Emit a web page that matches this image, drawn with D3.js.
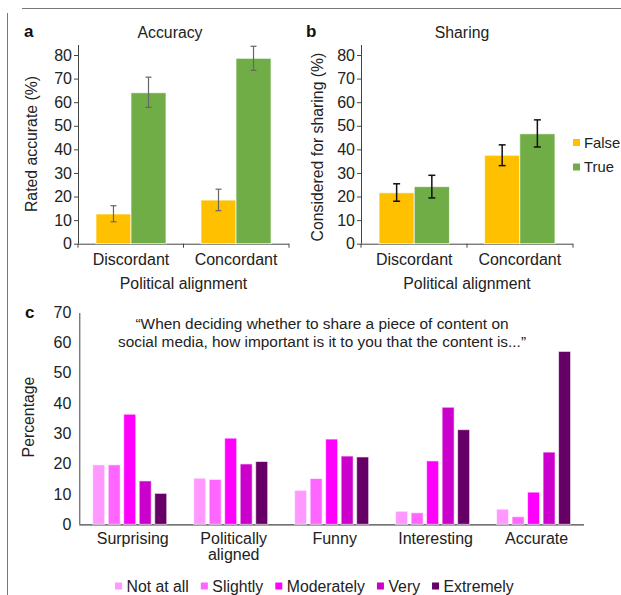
<!DOCTYPE html>
<html>
<head>
<meta charset="UTF-8">
<title>Accuracy and sharing</title>
<style>
  body { margin: 0; background: #fff; }
  svg { display: block; font-family: "Liberation Sans", Arial, Helvetica, sans-serif; }
  .axis path, .axis line { stroke: #444; }
  .axis text { fill: #222; font-size: 16px; }
</style>
</head>
<body>
<div id="chart"></div>
<script src="https://cdnjs.cloudflare.com/ajax/libs/d3/7.8.5/d3.min.js"></script>
<script>
// panels a and b
const alignments = ["Discordant", "Concordant"];
const veracity = ["False", "True"];
const accuracyFalse = [12.6, 18.5];
const accuracyFalseLo = [9.3, 14.0];
const accuracyFalseHi = [16.1, 23.1];
const accuracyTrue = [64.0, 78.6];
const accuracyTrueLo = [57.8, 73.5];
const accuracyTrueHi = [70.6, 83.7];
const sharingFalse = [21.6, 37.5];
const sharingFalseLo = [18.0, 33.1];
const sharingFalseHi = [25.4, 41.9];
const sharingTrue = [24.2, 46.6];
const sharingTrueLo = [19.4, 41.0];
const sharingTrueHi = [29.0, 52.5];
const pctTicks = [0, 10, 20, 30, 40, 50, 60, 70, 80];

// panel c
const traits = ["Surprising", "Politically aligned", "Funny", "Interesting", "Accurate"];
const levels = ["Not at all", "Slightly", "Moderately", "Very", "Extremely"];
const notAtAll = [19.6, 15.2, 11.2, 4.3, 5.0];
const slightly = [19.6, 14.8, 15.1, 3.8, 2.5];
const moderately = [36.3, 28.4, 28.1, 20.9, 10.6];
const very = [14.3, 19.9, 22.5, 38.6, 23.8];
const extremely = [10.2, 20.7, 22.2, 31.2, 57.0];
const cTicks = [0, 10, 20, 30, 40, 50, 60, 70];

const veracityColor = d3.scaleOrdinal().domain(veracity).range(["#ffc000", "#70ad47"]);
const levelColor = d3.scaleOrdinal().domain(levels).range(["#ff99ff", "#ff66ff", "#ff00ff", "#cc00cc", "#660066"]);

const W = 621, H = 595;
const FS = 15.8;
const svg = d3.select("#chart").append("svg").attr("width", W).attr("height", H);

// frame lines
svg.append("line").attr("x1", 22).attr("x2", W).attr("y1", 8.5).attr("y2", 8.5)
  .attr("stroke", "#777").attr("stroke-width", 1);
svg.append("line").attr("x1", 7.5).attr("x2", 7.5).attr("y1", 13).attr("y2", H)
  .attr("stroke", "#777").attr("stroke-width", 1);

function barPanel(opts) {
  const g = svg.append("g");
  const y = d3.scaleLinear().domain([0, 80]).range([243.7, 55]);
  const x0 = d3.scaleBand().domain(alignments).range([opts.left, opts.right])
    .paddingInner(0.333).paddingOuter(0.171);
  const x1 = d3.scaleBand().domain(veracity).range([0, x0.bandwidth()]);

  // y axis
  g.append("g").attr("class", "axis")
    .attr("transform", "translate(" + opts.left + ",0)")
    .call(d3.axisLeft(y).tickValues(pctTicks).tickSize(4).tickSizeOuter(0).tickPadding(2))
    .call(a => a.select(".domain").attr("d", "M0.5," + y(0) + "V" + (y(80) - 10)));

  // x axis with ticks on the category boundaries
  const xa = g.append("g").attr("class", "axis")
    .attr("transform", "translate(0," + y(0) + ")")
    .call(d3.axisBottom(x0).tickSize(0).tickPadding(10).tickSizeOuter(0));
  xa.selectAll(".tick text").attr("font-size", FS);
  xa.select(".domain").attr("d", "M" + opts.left + ",0.5H" + opts.right);
  const bounds = [opts.left, (opts.left + opts.right) / 2, opts.right];
  xa.selectAll(".bnd").data(bounds).enter().append("line")
    .attr("x1", d => d).attr("x2", d => d).attr("y1", 0).attr("y2", 4)
    .attr("stroke", "#444");

  const rows = alignments.map((a, i) => veracity.map((v, j) => ({
    group: a, key: v, value: opts.values[j][i], lo: opts.lo[j][i], hi: opts.hi[j][i]
  })));

  const grp = g.selectAll(".grp").data(rows).enter().append("g")
    .attr("transform", (d, i) => "translate(" + x0(alignments[i]) + ",0)");
  grp.selectAll("rect").data(d => d).enter().append("rect")
    .attr("x", d => x1(d.key))
    .attr("y", d => y(d.value))
    .attr("width", x1.bandwidth())
    .attr("height", d => y(0) - y(d.value))
    .attr("fill", d => veracityColor(d.key))
    .attr("stroke", "rgba(255,255,255,0.7)").attr("stroke-width", 1);

  // error bars
  const cap = opts.cap;
  const mid = d => x1(d.key) + x1.bandwidth() / 2;
  const eb = grp.selectAll(".eb").data(d => d).enter().append("g")
    .attr("stroke", opts.errColor).attr("stroke-width", opts.errWidth).attr("fill", "none");
  eb.append("line")
    .attr("x1", mid).attr("x2", mid)
    .attr("y1", d => y(d.lo)).attr("y2", d => y(d.hi));
  eb.append("line")
    .attr("x1", d => mid(d) - cap).attr("x2", d => mid(d) + cap)
    .attr("y1", d => y(d.lo)).attr("y2", d => y(d.lo));
  eb.append("line")
    .attr("x1", d => mid(d) - cap).attr("x2", d => mid(d) + cap)
    .attr("y1", d => y(d.hi)).attr("y2", d => y(d.hi));

  // texts
  g.append("text").attr("x", opts.letterX).attr("y", 31).attr("dy", "0.35em")
    .attr("font-weight", "bold").attr("font-size", 17).attr("fill", "#111").text(opts.letter);
  g.append("text").attr("x", opts.titleX).attr("y", 32).attr("dy", "0.35em")
    .attr("text-anchor", "middle").attr("font-size", FS).attr("fill", "#222").text(opts.title);
  g.append("text").attr("x", (opts.left + opts.right) / 2).attr("y", 283).attr("dy", "0.35em")
    .attr("text-anchor", "middle").attr("font-size", FS).attr("fill", "#222").text("Political alignment");
  g.append("text").attr("transform", "translate(" + opts.ylabX + "," + opts.ylabY + ") rotate(-90)")
    .attr("dy", "0.35em").attr("text-anchor", "middle").attr("font-size", FS).attr("fill", "#222")
    .text(opts.ylabel);
  return g;
}

barPanel({
  left: 78, right: 289, letter: "a", letterX: 24, title: "Accuracy", titleX: 170,
  ylabel: "Rated accurate (%)", ylabX: 31, ylabY: 144,
  values: [accuracyFalse, accuracyTrue], lo: [accuracyFalseLo, accuracyTrueLo], hi: [accuracyFalseHi, accuracyTrueHi],
  errColor: "#666", errWidth: 1.2, cap: 3
});

barPanel({
  left: 361, right: 573, letter: "b", letterX: 306, title: "Sharing", titleX: 462,
  ylabel: "Considered for sharing (%)", ylabX: 317, ylabY: 147,
  values: [sharingFalse, sharingTrue], lo: [sharingFalseLo, sharingTrueLo], hi: [sharingFalseHi, sharingTrueHi],
  errColor: "#111", errWidth: 1.5, cap: 3.5
});

// legend for a/b
const legAB = svg.append("g").attr("transform", "translate(573,0)");
const legItem = legAB.selectAll("g").data(veracity).enter().append("g")
  .attr("transform", (d, i) => "translate(0," + (142.5 + i * 24.5) + ")");
legItem.append("rect").attr("x", 0).attr("y", -3.5).attr("width", 7).attr("height", 7)
  .attr("fill", d => veracityColor(d));
legItem.append("text").attr("x", 11).attr("dy", "0.35em").attr("font-size", 14.8).attr("fill", "#222")
  .text(d => d);

// panel c
const cg = svg.append("g");
const cy = d3.scaleLinear().domain([0, 70]).range([524.3, 312]);
const cx0 = d3.scaleBand().domain(traits).range([79.3, 584]).paddingInner(0.267).paddingOuter(0.133);
const cx1 = d3.scaleBand().domain(levels).range([0, cx0.bandwidth()]).paddingInner(0.226);
const series = [notAtAll, slightly, moderately, very, extremely];

cg.append("g").attr("class", "axis")
  .attr("transform", "translate(79.3,0)")
  .call(d3.axisLeft(cy).tickValues(cTicks).tickSize(0).tickPadding(8))
  .call(a => a.select(".domain").attr("d", "M0.5," + cy(0) + "V" + (cy(70) + 1)));

const cxa = cg.append("g").attr("class", "axis")
  .attr("transform", "translate(0," + cy(0) + ")")
  .call(d3.axisBottom(cx0).tickSize(0).tickSizeOuter(0).tickFormat(""));
cxa.select(".domain").attr("d", "M79.3,0.5H584").attr("stroke", "#555").attr("stroke-width", 1.3);
cxa.selectAll(".tick").append("text").attr("class", "lbl")
  .attr("text-anchor", "middle").attr("fill", "#222").attr("font-size", FS)
  .each(function (d) {
    const words = d.split(" ");
    const t = d3.select(this);
    words.forEach((w, i) => t.append("tspan").attr("x", 3).attr("y", 13.7 + i * 16)
      .attr("dy", "0.35em").text(w));
  });

const cgrp = cg.selectAll(".cgrp").data(traits).enter().append("g")
  .attr("transform", d => "translate(" + cx0(d) + ",0)");
cgrp.selectAll("rect").data((t, i) => levels.map((l, j) => ({ level: l, value: series[j][i] })))
  .enter().append("rect")
  .attr("x", d => cx1(d.level))
  .attr("y", d => cy(d.value))
  .attr("width", cx1.bandwidth())
  .attr("height", d => cy(0) - cy(d.value))
  .attr("fill", d => levelColor(d.level))
  .attr("stroke", "rgba(255,255,255,0.6)").attr("stroke-width", 1);

cg.append("text").attr("x", 25).attr("y", 312).attr("dy", "0.35em")
  .attr("font-weight", "bold").attr("font-size", 17).attr("fill", "#111").text("c");
cg.append("text").attr("transform", "translate(28.5,417) rotate(-90)")
  .attr("dy", "0.35em").attr("text-anchor", "middle").attr("font-size", FS).attr("fill", "#222")
  .text("Percentage");
const qt = cg.append("text").attr("text-anchor", "middle").attr("font-size", 15.4).attr("fill", "#222");
qt.append("tspan").attr("x", 322).attr("y", 323.3).attr("dy", "0.35em")
  .text("\u201cWhen deciding whether to share a piece of content on");
qt.append("tspan").attr("x", 322).attr("y", 341.7).attr("dy", "0.35em")
  .text("social media, how important is it to you that the content is...\u201d");

// legend for c, flowing left to right
const legC = cg.append("g").attr("transform", "translate(115,586)");
let lx = 0;
levels.forEach(l => {
  const item = legC.append("g").attr("transform", "translate(" + lx + ",0)");
  item.append("rect").attr("x", 0).attr("y", -3.5).attr("width", 7).attr("height", 7)
    .attr("fill", levelColor(l));
  const t = item.append("text").attr("x", 11.5).attr("dy", "0.35em").attr("font-size", FS)
    .attr("fill", "#222").text(l);
  lx += 11.5 + t.node().getComputedTextLength() + 12;
});
</script>
</body>
</html>
